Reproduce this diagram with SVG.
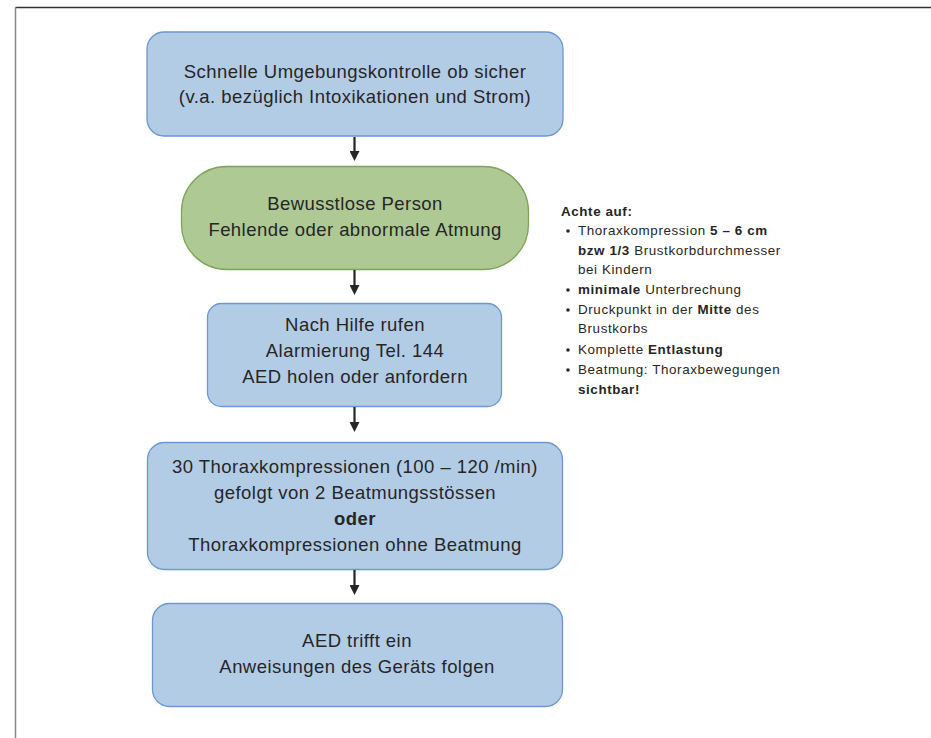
<svg xmlns="http://www.w3.org/2000/svg" width="931" height="738" viewBox="0 0 931 738">
<defs>
<style>
.box{fill:#b3cce5;stroke:#6c97cf;stroke-width:1.3}
.green{fill:#aec993;stroke:#7ea35a;stroke-width:1.3}
.t{font-family:"Liberation Sans",Arial,sans-serif;font-size:18.5px;letter-spacing:0.45px;fill:#262626;text-anchor:middle}
.s{font-family:"Liberation Sans",Arial,sans-serif;font-size:13.4px;letter-spacing:0.6px;fill:#262626}
.b{font-weight:bold}
.c{stroke:#262626;stroke-width:2.2;fill:none}
</style>
<marker id="ah" markerWidth="10" markerHeight="10" refX="4" refY="4" orient="auto" markerUnits="userSpaceOnUse" viewBox="0 0 8 8">
<path d="M0,0 L8,4 L0,8 Z" fill="#262626"/>
</marker>
</defs>
<rect width="931" height="738" fill="#fff"/>
<line x1="15.5" y1="7.5" x2="931" y2="7.5" stroke="#333" stroke-width="1.5"/>
<line x1="15.5" y1="7" x2="15.5" y2="738" stroke="#888" stroke-width="1.5"/>
<g id="n1">
<rect class="box" x="147" y="32" width="416" height="104" rx="17"/>
<text class="t" x="355" y="78">Schnelle Umgebungskontrolle ob sicher</text>
<text class="t" x="355" y="103">(v.a. bezüglich Intoxikationen und Strom)</text>
</g>
<g id="n2">
<rect class="green" x="181.5" y="166.5" width="347" height="103" rx="45"/>
<text class="t" x="355" y="210">Bewusstlose Person</text>
<text class="t" x="355" y="236">Fehlende oder abnormale Atmung</text>
</g>
<g id="n3">
<rect class="box" x="207.5" y="303.5" width="294" height="103" rx="14"/>
<text class="t" x="355" y="331">Nach Hilfe rufen</text>
<text class="t" x="355" y="357">Alarmierung Tel. 144</text>
<text class="t" x="355" y="383">AED holen oder anfordern</text>
</g>
<g id="n4">
<rect class="box" x="147.5" y="442.5" width="415" height="127" rx="17"/>
<text class="t" x="355" y="473">30 Thoraxkompressionen (100 – 120 /min)</text>
<text class="t" x="355" y="499">gefolgt von 2 Beatmungsstössen</text>
<text class="t b" x="355" y="525">oder</text>
<text class="t" x="355" y="551">Thoraxkompressionen ohne Beatmung</text>
</g>
<g id="n5">
<rect class="box" x="152.5" y="603.5" width="410" height="103" rx="17"/>
<text class="t" x="357" y="647">AED trifft ein</text>
<text class="t" x="357" y="673">Anweisungen des Geräts folgen</text>
</g>
<g id="notes">
<text class="s b" x="561" y="216">Achte auf:</text>
<g fill="#262626">
<circle cx="568" cy="231" r="1.8"/>
<circle cx="568" cy="290" r="1.8"/>
<circle cx="568" cy="310" r="1.8"/>
<circle cx="568" cy="350" r="1.8"/>
<circle cx="568" cy="370" r="1.8"/>
</g>
<text class="s" x="578" y="235">Thoraxkompression <tspan class="b">5 – 6 cm</tspan></text>
<text class="s" x="578" y="255"><tspan class="b">bzw 1/3</tspan> Brustkorbdurchmesser</text>
<text class="s" x="578" y="274">bei Kindern</text>
<text class="s" x="578" y="294"><tspan class="b">minimale</tspan> Unterbrechung</text>
<text class="s" x="578" y="314">Druckpunkt in der <tspan class="b">Mitte</tspan> des</text>
<text class="s" x="578" y="333">Brustkorbs</text>
<text class="s" x="578" y="354">Komplette <tspan class="b">Entlastung</tspan></text>
<text class="s" x="578" y="374">Beatmung: Thoraxbewegungen</text>
<text class="s b" x="578" y="394">sichtbar!</text>
</g>
<g id="connectors">
<line class="c" x1="354.5" y1="137" x2="354.5" y2="156" marker-end="url(#ah)"/>
<line class="c" x1="354.5" y1="270" x2="354.5" y2="290" marker-end="url(#ah)"/>
<line class="c" x1="354.5" y1="407" x2="354.5" y2="427" marker-end="url(#ah)"/>
<line class="c" x1="354.5" y1="570" x2="354.5" y2="590" marker-end="url(#ah)"/>
</g>
</svg>
